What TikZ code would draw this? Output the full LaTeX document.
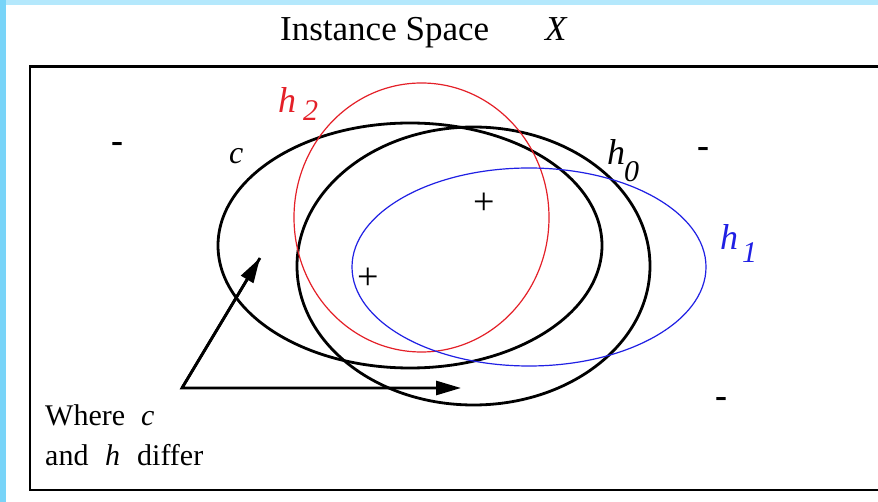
\documentclass[tikz,border=0pt]{standalone}
\usepackage{fontspec}
\setmainfont{Liberation Serif}
\usetikzlibrary{arrows.meta}
\definecolor{hred}{RGB}{228,32,40}
\definecolor{hblue}{RGB}{32,32,228}
\definecolor{topband}{RGB}{180,232,252}
\definecolor{leftband}{RGB}{120,212,248}
\tikzset{
  bigell/.style={line width=2.8pt, black},
  thinell/.style={line width=1.2pt},
  txt/.style={inner sep=0pt, anchor=base west},
  ptr/.style={line width=2.8pt, -{Triangle[length=25pt,width=14pt]}},
  plussign/.style={inner sep=0pt, font=\fontsize{38}{38}\selectfont},
  minussign/.style={inner sep=0pt, font=\fontsize{36}{36}\selectfont\bfseries},
  hlab/.style={inner sep=0pt, anchor=base west, font=\fontsize{36}{36}\selectfont\itshape},
  hsub/.style={inner sep=0pt, anchor=base west, font=\fontsize{30}{30}\selectfont\itshape},
  note/.style={txt, font=\fontsize{30}{30}\selectfont},
  noteit/.style={txt, font=\fontsize{30}{30}\selectfont\itshape},
}
\begin{document}
\begin{tikzpicture}[x=1pt,y=-1pt]
\useasboundingbox (0,0) rectangle (878,502);
\fill[white] (0,0) rectangle (878,502);
\fill[topband] (0,0) rectangle (878,5);
\fill[leftband] (0,0) rectangle (6,502);
% frame
\draw[line width=2.5pt] (890,66.5) -- (30,66.5) -- (30,490) -- (890,490);
% title
\node[txt, font=\fontsize{35}{40}\selectfont] (title) at (280,41) {Instance Space};
\node[txt, font=\fontsize{35}{40}\selectfont\itshape] (X) at (545,41) {X};
% ellipses
\coordinate (cC) at (410,245.5);
\coordinate (cH0) at (473.5,266);
\coordinate (cH2) at (421.5,217.5);
\coordinate (cH1) at (529,267);
\draw[bigell] (cC) ellipse [x radius=192, y radius=122.5];
\draw[bigell] (cH0) ellipse [x radius=176.5, y radius=139];
\draw[thinell, hred] (cH2) ellipse [x radius=127.5, y radius=134.5];
\draw[thinell, hblue] (cH1) ellipse [x radius=177, y radius=99];
% labels
\node[noteit, font=\fontsize{32}{32}\selectfont\itshape] (lc) at (229,164) {c};
\node[hlab, hred] (lh2) at (278,113) {h};
\node[hsub, hred] (lh2s) at (303,121) {2};
\node[hlab] (lh0) at (607,165) {h};
\node[hsub] (lh0s) at (624,182) {0};
\node[hlab, hblue] (lh1) at (720,250) {h};
\node[hsub, hblue] (lh1s) at (742,263) {1};
% plus and minus
\node[plussign] (p1) at (484,204) {+};
\node[plussign] (p2) at (368,279) {+};
\node[minussign] (m1) at (117,148) {-};
\node[minussign] (m2) at (703,153) {-};
\node[minussign] (m3) at (721,402) {-};
% arrows
\coordinate (v) at (182,388);
\coordinate (t1) at (461,388);
\coordinate (t2) at (260,258);
\draw[ptr, line join=miter] (t2) -- (v) -- (t1);
\draw[ptr] (v) -- (t2);
% note
\node[note] (w1) at (45,425) {Where};
\node[noteit] (w2) at (141,425) {c};
\node[note] (w3) at (45,465) {and};
\node[noteit] (w4) at (105,465) {h};
\node[note] (w5) at (137,465) {differ};
\end{tikzpicture}
\end{document}
